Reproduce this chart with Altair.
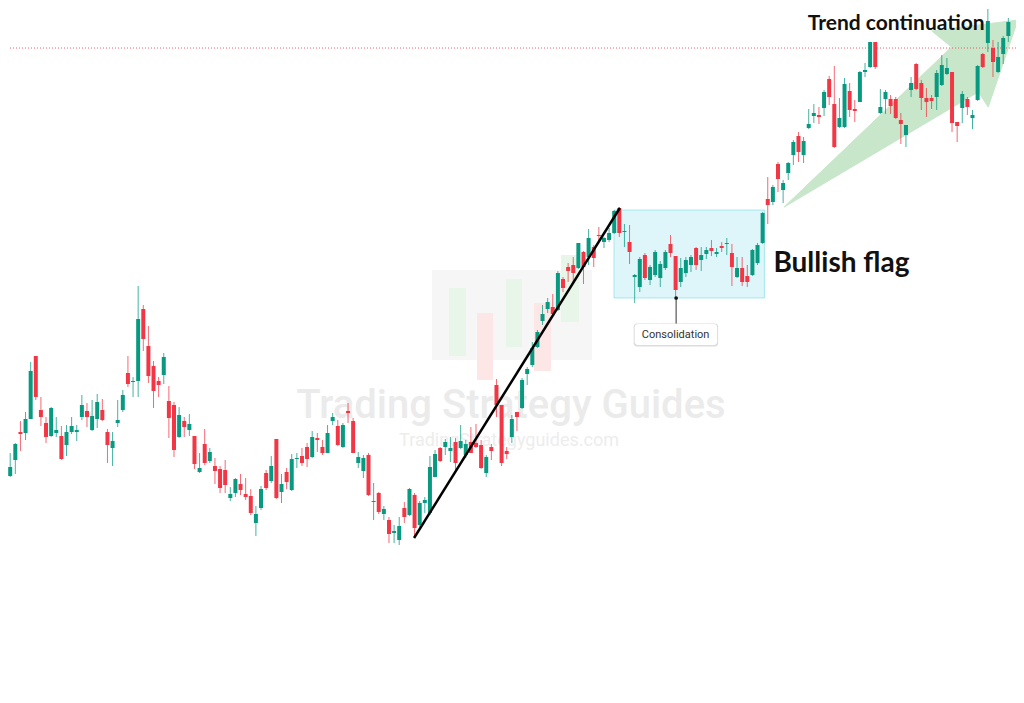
import altair as alt
import pandas as pd

# ---------------- candle data ----------------
opens = [
    220, 224, 240, 268, 267, 281, 344, 290, 277, 264,
    267, 264, 255, 268, 268, 283, 289, 270, 281, 290,
    268, 252, 277, 290, 327, 318, 319, 391, 354, 334,
    319, 325, 299, 295, 263, 279, 270, 264, 228, 256,
    239, 234, 231, 230, 202, 207, 216, 206, 204, 177,
    192, 227, 219, 261, 208, 228, 210, 241, 244, 253,
    243, 262, 253, 247, 279, 274, 253, 289, 279, 237,
    229, 245, 198, 207, 186, 180, 167, 160, 192, 185,
    205, 175, 197, 187, 223, 252, 253, 249, 258, 252,
    245, 258, 257, 255, 227, 253, 315, 295, 249, 263,
    288, 292, 326, 335, 353, 379, 391, 393, 390, 421,
    433, 435, 432, 448, 443, 453, 465, 458, 460, 467,
    492, 468, 458, 423, 413, 445, 420, 425, 422, 432,
    456, 444, 418, 427, 435, 452, 440, 446, 452, 446,
    454, 456, 447, 423, 432, 424, 425, 437, 457, 501,
    498, 536, 510, 527, 545, 564, 545, 572, 584, 585,
    592, 621, 596, 573, 573, 609, 591, 598, 628, 633,
    658, 587, 601, 601, 601, 580, 565, 610, 636, 617,
    602, 602, 603, 615, 626, 628, 578, 592, 601, 582,
    600, 646, 657, 652, 628, 646, 664, 699,
]
closes = [
    225, 233, 256, 266, 281, 329, 303, 283, 263, 292,
    270, 241, 268, 274, 270, 295, 283, 284, 298, 280,
    255, 259, 280, 305, 316, 319, 381, 361, 324, 309,
    315, 343, 282, 250, 285, 273, 276, 236, 232, 237,
    248, 229, 212, 215, 206, 221, 210, 203, 187, 186,
    211, 212, 234, 202, 216, 218, 241, 242, 237, 241,
    263, 260, 247, 267, 283, 255, 275, 287, 247, 243,
    242, 205, 199, 188, 191, 166, 169, 174, 183, 211,
    172, 197, 200, 233, 246, 239, 258, 252, 237, 259,
    256, 247, 253, 232, 243, 249, 295, 237, 246, 281,
    283, 320, 331, 352, 368, 386, 398, 386, 427, 412,
    429, 427, 457, 433, 462, 442, 464, 462, 467, 489,
    467, 469, 448, 425, 441, 422, 433, 448, 436, 448,
    447, 410, 432, 440, 443, 435, 445, 450, 449, 448,
    452, 457, 433, 432, 418, 418, 450, 455, 487, 495,
    513, 521, 517, 537, 558, 548, 559, 576, 587, 583,
    608, 603, 553, 582, 616, 590, 589, 628, 630, 658,
    633, 593, 608, 594, 582, 576, 575, 617, 611, 602,
    598, 599, 627, 635, 632, 577, 574, 606, 593, 585,
    634, 633, 679, 638, 643, 662, 678, 695,
]
highs = [
    227, 247, 257, 279, 288, 338, 344, 303, 283, 293,
    283, 274, 275, 283, 275, 305, 297, 300, 306, 301,
    271, 268, 300, 310, 344, 323, 414, 395, 374, 339,
    323, 347, 314, 298, 293, 283, 286, 264, 247, 271,
    252, 242, 234, 240, 213, 222, 226, 222, 211, 194,
    214, 230, 244, 261, 226, 232, 246, 247, 252, 257,
    269, 267, 260, 275, 287, 280, 277, 297, 282, 248,
    245, 247, 217, 208, 194, 183, 175, 183, 198, 212,
    207, 199, 203, 244, 250, 253, 261, 263, 262, 275,
    260, 273, 276, 260, 245, 256, 321, 295, 253, 285,
    288, 322, 333, 358, 370, 395, 402, 406, 429, 423,
    437, 443, 457, 449, 471, 455, 473, 463, 472, 490,
    493, 476, 475, 426, 443, 447, 435, 450, 439, 450,
    465, 444, 442, 443, 445, 453, 453, 453, 460, 452,
    458, 462, 456, 443, 443, 435, 451, 457, 488, 523,
    515, 538, 520, 538, 560, 568, 563, 591, 596, 593,
    610, 624, 634, 602, 622, 617, 600, 629, 637, 658,
    658, 611, 610, 605, 603, 587, 575, 623, 637, 620,
    612, 605, 630, 645, 642, 628, 578, 609, 603, 590,
    635, 647, 691, 660, 658, 664, 682, 700,
]
lows = [
    218, 223, 226, 249, 260, 281, 300, 274, 257, 263,
    263, 240, 244, 266, 259, 280, 273, 269, 272, 279,
    237, 234, 273, 288, 313, 303, 303, 349, 317, 292,
    303, 316, 262, 243, 262, 263, 264, 231, 227, 235,
    237, 216, 207, 207, 199, 203, 205, 200, 185, 164,
    190, 210, 217, 201, 197, 211, 209, 232, 234, 233,
    242, 248, 245, 247, 275, 254, 252, 277, 247, 232,
    222, 204, 180, 186, 180, 157, 157, 155, 177, 184,
    162, 173, 187, 185, 223, 238, 245, 238, 230, 251,
    242, 247, 252, 231, 223, 240, 283, 234, 241, 257,
    269, 291, 315, 333, 352, 375, 387, 385, 389, 408,
    418, 417, 431, 416, 435, 433, 458, 452, 458, 466,
    463, 453, 436, 397, 408, 420, 415, 423, 413, 430,
    443, 402, 413, 423, 428, 430, 429, 441, 444, 443,
    448, 445, 414, 422, 414, 413, 424, 435, 456, 476,
    495, 508, 497, 520, 535, 538, 537, 571, 577, 576,
    584, 595, 552, 572, 572, 583, 578, 598, 623, 632,
    631, 586, 586, 586, 581, 556, 553, 603, 610, 590,
    583, 591, 590, 614, 625, 568, 558, 577, 585, 571,
    599, 632, 648, 623, 627, 636, 658, 692,
]

# ---------------- annotation anchors (bar index / price) ----------------
trend_t = [79.9, 120.1]
trend_p = [162, 492]

flag_t = [118.95, 148.35]
flag_p = [402, 490]

arrow_t = [152.2, 184.9, 181.04, 197.87, 192.07, 190.14, 152.2]
arrow_p = [493, 653, 669, 680, 593, 608, 493]

resistance_level = 652

GREEN = "#089981"
RED = "#F23645"

n = len(opens)
candles = pd.DataFrame({
    "t": list(range(n)),
    "open": opens, "high": highs, "low": lows, "close": closes,
})
candles["dir"] = ["up" if c >= o else "down" for o, c in zip(opens, closes)]

W, H = 1008, 670
xs = alt.Scale(domain=[1.547, 196.52], nice=False, zero=False)
ys = alt.Scale(domain=[22, 692], nice=False, zero=False)
X = lambda f: alt.X(f, type="quantitative", scale=xs, axis=None)
Y = lambda f: alt.Y(f, type="quantitative", scale=ys, axis=None)
color = alt.Color("dir:N", scale=alt.Scale(domain=["up", "down"], range=[GREEN, RED]), legend=None)

# ---------------- watermark (decorative, pixel positioned) ----------------
logo = pd.DataFrame({
    "x0": [424, 441, 469, 498, 526, 553],
    "x1": [584, 458, 485, 514, 543, 571],
    "y0": [262, 280, 305, 271, 295, 247],
    "y1": [352, 348, 372, 339, 363, 314],
    "c": ["#f6f6f6", "#e8f5e9", "#fde6e6", "#e8f5e9", "#fde6e6", "#e8f5e9"],
    "k": [0, 1, 2, 3, 4, 5],
})
logo_layer = alt.Chart(logo).mark_rect().encode(
    x=alt.X("x0:Q", scale=None, axis=None), x2="x1:Q",
    y=alt.Y("y0:Q", scale=None, axis=None), y2="y1:Q",
    fill=alt.Fill("c:N", scale=None), order="k:Q",
)
wm = pd.DataFrame({"x": [503, 501], "y": [410, 438],
                   "s": ["Trading Strategy Guides", "TradingStrategyguides.com"]})
wm_big = alt.Chart(wm.iloc[[0]]).mark_text(
    font="Roboto", fontSize=40, fontWeight=500, color="#ebebeb", align="center", baseline="alphabetic"
).encode(x=alt.X("x:Q", scale=None, axis=None), y=alt.Y("y:Q", scale=None, axis=None), text="s:N")
wm_small = alt.Chart(wm.iloc[[1]]).mark_text(
    font="Roboto", fontSize=18, color="#ededed", align="center", baseline="alphabetic"
).encode(x=alt.X("x:Q", scale=None, axis=None), y=alt.Y("y:Q", scale=None, axis=None), text="s:N")

# ---------------- annotations ----------------
flag_df = pd.DataFrame({"t0": [flag_t[0]], "t1": [flag_t[1]], "p0": [flag_p[0]], "p1": [flag_p[1]]})
flag_box = alt.Chart(flag_df).mark_rect(
    fill="#00bcd4", fillOpacity=0.13, stroke="#00bcd4", strokeOpacity=0.3, strokeWidth=1
).encode(x=X("t0"), x2="t1:Q", y=Y("p0"), y2="p1:Q")

arrow_df = pd.DataFrame({"t": arrow_t, "p": arrow_p, "o": list(range(len(arrow_t)))})
arrow = alt.Chart(arrow_df).mark_line(
    fill="#c8e6c9", stroke="#c8e6c9", strokeWidth=1, interpolate="linear"
).encode(x=X("t"), y=Y("p"), order="o:Q")

res_df = pd.DataFrame({"p": [resistance_level]})
res = alt.Chart(res_df).mark_rule(color=RED, strokeDash=[1, 2], strokeWidth=1, opacity=0.8).encode(y=Y("p"))

wicks = alt.Chart(candles).mark_rule(strokeWidth=1, opacity=0.75).encode(
    x=X("t"), y=Y("low"), y2="high:Q", color=color)
bodies = alt.Chart(candles).mark_bar(size=4).encode(
    x=X("t"), y=Y("open"), y2="close:Q", color=color)

trend_df = pd.DataFrame({"t": trend_t, "p": trend_p})
trend = alt.Chart(trend_df).mark_line(color="black", strokeWidth=2.5).encode(x=X("t"), y=Y("p"))

ptr_df = pd.DataFrame({"t": [131.1], "p0": [402], "p1": [376]})
ptr = alt.Chart(ptr_df).mark_rule(color="#555555", strokeWidth=1.2).encode(x=X("t"), y=Y("p0"), y2="p1:Q")
dot = alt.Chart(ptr_df).mark_circle(size=14, color="#111111", opacity=1).encode(x=X("t"), y=Y("p0"))

lab_df = pd.DataFrame({"t0": [123.0], "t1": [139.1], "p0": [355], "p1": [376],
                       "s0": [122.8], "s1": [139.3], "q0": [353.6], "q1": [376.6],
                       "tc": [131.0], "pc": [365.3], "txt": ["Consolidation"]})
lab_shadow = alt.Chart(lab_df).mark_rect(fill="#dcdcdc", cornerRadius=3).encode(
    x=X("s0"), x2="s1:Q", y=Y("q0"), y2="q1:Q")
lab_box = alt.Chart(lab_df).mark_rect(fill="white", cornerRadius=3).encode(
    x=X("t0"), x2="t1:Q", y=Y("p0"), y2="p1:Q")
lab_txt = alt.Chart(lab_df).mark_text(font="Roboto", fontSize=11, color="#333333",
                                      align="center", baseline="middle").encode(
    x=X("tc"), y=Y("pc"), text="txt:N")

titles = pd.DataFrame({"t": [150.1, 174.1], "p": [428, 670],
                       "s": ["Bullish flag", "Trend continuation"]})
t_flag = alt.Chart(titles.iloc[[0]]).mark_text(
    font="Lato", fontWeight="bold", fontSize=28, color="#111111", align="left", baseline="alphabetic"
).encode(x=X("t"), y=Y("p"), text="s:N")
t_trend = alt.Chart(titles.iloc[[1]]).mark_text(
    font="Lato", fontWeight="bold", fontSize=21, color="#111111", align="center", baseline="alphabetic"
).encode(x=X("t"), y=Y("p"), text="s:N")

chart = alt.layer(
    logo_layer, wm_big, wm_small, flag_box, arrow, res, wicks, bodies, trend,
    ptr, dot, lab_shadow, lab_box, lab_txt, t_flag, t_trend,
).properties(
    width=W, height=H, padding=0, autosize=alt.AutoSizeParams(type="none"), background="white"
).configure_view(stroke=None)

chart.save("out.html", embed_options={"renderer": "svg", "actions": False})
